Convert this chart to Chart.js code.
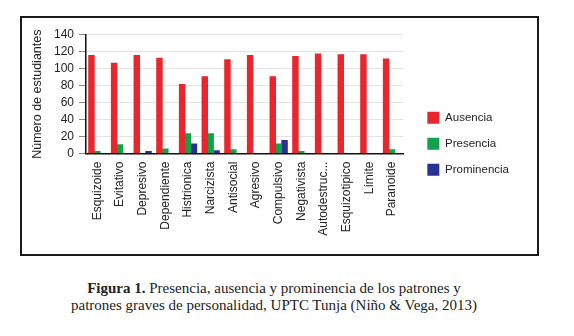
<!DOCTYPE html>
<html>
<head>
<meta charset="utf-8">
<script src="https://cdn.jsdelivr.net/npm/chart.js@4.4.1/dist/chart.umd.min.js"></script>
<style>
  html, body { margin: 0; padding: 0; background: #fff; }
  body { width: 574px; height: 336px; position: relative; overflow: hidden; }
  #frame {
    position: absolute; left: 20px; top: 16px; width: 515px; height: 236px;
    border: 2px solid #1a1a1a;
  }
  #wrap { position: absolute; left: 22px; top: 18px; width: 514px; height: 235px; }
  #caption {
    position: absolute; left: 0; top: 280px; width: 548px; text-align: center;
    font-family: "Liberation Serif", "DejaVu Serif", serif; font-size: 15px;
    line-height: 17px; color: #222;
  }
</style>
</head>
<body>
<div id="frame"></div>
<div id="wrap"><canvas id="chart"></canvas></div>
<div id="caption"><b>Figura 1.</b> Presencia, ausencia y prominencia de los patrones y<br>patrones graves de personalidad, UPTC Tunja (Niño &amp; Vega, 2013)</div>
<script>
// categories
const patrones = ['Esquizoide', 'Evitativo', 'Depresivo', 'Dependiente', 'Histrionica',
  'Narcizista', 'Antisocial', 'Agresivo', 'Compulsivo', 'Negativista',
  'Autodestruc...', 'Esquizotipico', 'Límite', 'Paranoide'];

// series (numero de estudiantes)
const ausencia    = [116, 107, 116, 113, 82, 91, 111, 116, 91, 115, 118, 117, 117, 112];
const presencia   = [3, 11, 0, 6, 24, 24, 5, 0, 12, 3, 0, 0, 0, 5];
const prominencia = [0, 0, 3, 0, 12, 4, 0, 0, 16, 0, 0, 0, 0, 0];

// y ticks
const yMax = 140;
const yStep = 20;

const COLOURS = ['#e8262d', '#13a14c', '#2b3190'];
const FONT = 'Liberation Sans, Arial, sans-serif';

Chart.defaults.font.family = FONT;
Chart.defaults.color = '#222';

// push the legend a little away from the plot
const legendGap = {
  id: 'legendGap',
  afterLayout: function (chart) {
    chart.legend.left += 10;
    chart.legend.right += 10;
  }
};

new Chart(document.getElementById('chart').getContext('2d'), {
  type: 'bar',
  data: {
    labels: patrones,
    datasets: [
      { label: 'Ausencia', data: ausencia, backgroundColor: COLOURS[0] },
      { label: 'Presencia', data: presencia, backgroundColor: COLOURS[1] },
      { label: 'Prominencia', data: prominencia, backgroundColor: COLOURS[2] }
    ]
  },
  plugins: [legendGap],
  options: {
    responsive: true,
    maintainAspectRatio: false,
    animation: false,
    datasets: { bar: { categoryPercentage: 0.78, barPercentage: 1.1 } },
    layout: { padding: { top: 16.7, left: 8, right: 27, bottom: 0 } },
    plugins: {
      tooltip: { enabled: false },
      legend: {
        position: 'right',
        align: 'center',
        labels: {
          boxWidth: 12, boxHeight: 12, padding: 14,
          font: { size: 11.5, family: FONT }, color: '#222'
        }
      }
    },
    scales: {
      x: {
        grid: { display: false, drawTicks: false },
        border: { display: true, color: '#111', width: 1.5 },
        ticks: {
          minRotation: 90, maxRotation: 90, autoSkip: false, padding: 8,
          font: { size: 12, family: FONT }, color: '#222'
        },
        afterFit: function (scale) { scale.height = 99.4; }
      },
      y: {
        min: 0, max: yMax,
        grid: { color: '#e3e3e3', tickLength: 7, tickColor: '#888' },
        border: { display: true, color: '#111', width: 1.5 },
        ticks: { stepSize: yStep, autoSkip: false, padding: 5, font: { size: 12, family: FONT }, color: '#222' },
        title: {
          display: true, text: 'Número de estudiantes',
          font: { size: 12.5, family: FONT }, color: '#222', padding: { top: 0, bottom: 4 }
        }
      }
    }
  }
});
</script>
</body>
</html>
